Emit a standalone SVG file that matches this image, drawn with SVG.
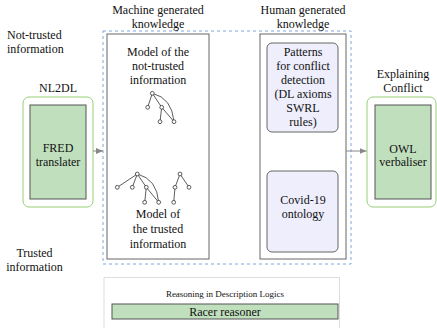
<svg xmlns="http://www.w3.org/2000/svg" width="437" height="328" viewBox="0 0 437 328">
<style>
text{font-family:"Liberation Serif","Times New Roman",serif;font-size:12px;fill:#111;text-anchor:middle}
.outer{fill:#fff;stroke:#97d077;stroke-width:1}
.green{fill:#c0dfbd;stroke:#555;stroke-width:1}
.lav{fill:#eeeefc;stroke:#666;stroke-width:1}
.box{fill:#fff;stroke:#666;stroke-width:1}
.edge{fill:none;stroke:#333;stroke-width:0.8}
.nd{fill:#fff;stroke:#333;stroke-width:0.8}
.conn{stroke:#888;stroke-width:1;fill:none}
</style>
<defs>
<marker id="ah" markerWidth="8" markerHeight="8" refX="7" refY="4" orient="auto" markerUnits="userSpaceOnUse">
<path d="M0,1 L7,4 L0,7 Z" fill="#888"/>
</marker>
</defs>

<g id="label-not-trusted">
<text x="7" y="39" style="text-anchor:start">Not-trusted</text>
<text x="7" y="53" style="text-anchor:start">information</text>
</g>
<g id="label-trusted">
<text x="34.5" y="257">Trusted</text>
<text x="34.5" y="271">information</text>
</g>

<g id="nl2dl">
<text x="58" y="92">NL2DL</text>
<rect class="outer" x="23" y="97" width="70" height="110" rx="6"/>
<rect class="green" x="30" y="105" width="56" height="94"/>
<text x="58" y="152">FRED</text>
<text x="58" y="166">translater</text>
</g>

<g id="machine-knowledge">
<rect x="103" y="31" width="248" height="233" fill="none" stroke="#7ea6e0" stroke-width="1" stroke-dasharray="3,3"/>
<text x="158" y="14">Machine generated</text>
<text x="158" y="28">knowledge</text>
<rect class="box" x="107" y="34" width="102" height="225"/>
<text x="158" y="56">Model of the</text>
<text x="158" y="70">not-trusted</text>
<text x="158" y="84">information</text>
<text x="158" y="218">Model of</text>
<text x="158" y="233">the trusted</text>
<text x="158" y="248">information</text>
</g>

<g id="tree-not-trusted">
<path class="edge" d="M152.3,93.3 L147.7,107.3 M152.3,93.3 L161.7,107.3 M161.7,107.3 L160,121.7 M161.7,107.3 L174,121.7 M152.3,93.3 Q172,98 174,121.7"/>
<circle class="nd" cx="152.3" cy="93.3" r="1.9"/>
<circle class="nd" cx="147.7" cy="107.3" r="1.9"/>
<circle class="nd" cx="161.7" cy="107.3" r="1.9"/>
<circle class="nd" cx="160" cy="121.7" r="1.9"/>
<circle class="nd" cx="174" cy="121.7" r="1.9"/>
</g>

<g id="tree-trusted">
<path class="edge" d="M137.3,174 L117.3,187.3 M137.3,174 L132.3,187.3 M137.3,174 L146.3,187.3 M146.3,187.3 L144.7,202.3 M146.3,187.3 L158.7,202.3 M137.3,174 Q157,179 158.7,202.3"/>
<circle class="nd" cx="137.3" cy="174" r="1.9"/>
<circle class="nd" cx="117.3" cy="187.3" r="1.9"/>
<circle class="nd" cx="132.3" cy="187.3" r="1.9"/>
<circle class="nd" cx="146.3" cy="187.3" r="1.9"/>
<circle class="nd" cx="144.7" cy="202.3" r="1.9"/>
<circle class="nd" cx="158.7" cy="202.3" r="1.9"/>
<path class="edge" d="M180,174 L175,187.3 M180,174 L189,187.3 M175,187.3 L173.7,202.3"/>
<circle class="nd" cx="180" cy="174" r="1.9"/>
<circle class="nd" cx="175" cy="187.3" r="1.9"/>
<circle class="nd" cx="189" cy="187.3" r="1.9"/>
<circle class="nd" cx="173.7" cy="202.3" r="1.9"/>
</g>

<g id="human-knowledge">
<text x="303" y="14">Human generated</text>
<text x="303" y="28">knowledge</text>
<rect class="box" x="260" y="34" width="86" height="225"/>
</g>

<g id="patterns">
<rect class="lav" x="267" y="43" width="71" height="89" rx="5"/>
<text x="303" y="56">Patterns</text>
<text x="303" y="69.5">for conflict</text>
<text x="303" y="83.5">detection</text>
<text x="303" y="97.5">(DL axioms</text>
<text x="303" y="111.5">SWRL</text>
<text x="303" y="125.5">rules)</text>
</g>

<g id="covid">
<rect class="lav" x="267" y="171" width="71" height="81" rx="5"/>
<text x="303" y="204">Covid-19</text>
<text x="303" y="218">ontology</text>
</g>

<g id="owl">
<text x="403" y="78">Explaining</text>
<text x="403" y="92">Conflict</text>
<rect class="outer" x="367" y="97" width="69" height="110" rx="6"/>
<rect class="green" x="375" y="105" width="56" height="94"/>
<text x="403" y="153">OWL</text>
<text x="403" y="166">verbaliser</text>
</g>

<g id="reasoning">
<path d="M104,328 L104,277.5 L339.5,277.5 L339.5,328" fill="#fff" stroke="#ddd" stroke-width="1"/>
<text x="225" y="296.5" style="font-size:9px">Reasoning in Description Logics</text>
<rect class="green" x="112" y="304" width="226" height="15"/>
<text x="225" y="316">Racer reasoner</text>
</g>

<g id="connectors">
<line class="conn" x1="93" y1="151" x2="103" y2="151" marker-end="url(#ah)"/>
<line class="conn" x1="346" y1="151" x2="366.5" y2="151" marker-end="url(#ah)"/>
</g>
</svg>
